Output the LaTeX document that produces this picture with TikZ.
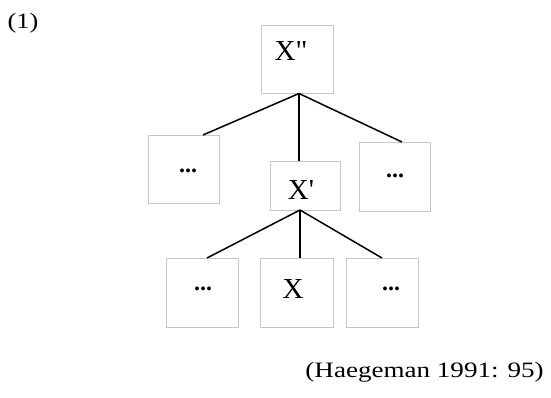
\documentclass[tikz,border=0pt]{standalone}
\usepackage{fontspec}
\setmainfont{Liberation Serif}
\newfontfamily\rawserif{Liberation Serif}
\begin{document}
\begin{tikzpicture}[x=1pt,y=-1pt,
  box/.style={draw=black!22, line width=0.8pt, inner sep=0pt},
  lbl/.style={font=\rawserif\fontsize{29}{30}\selectfont},
  dots/.style={font=\fontsize{24}{26}\selectfont\bfseries},
  edge/.style={draw=black, line width=1.5pt}]
\useasboundingbox (0,0) rectangle (551,397);
\node[box, minimum width=72pt, minimum height=68pt] (xpp) at (297,59) {};
\node[lbl] (xpptxt) at (291,51) {X"};
\node[box, minimum width=71pt, minimum height=68pt] (lb) at (183.5,169) {};
\node[dots] (lbtxt) at (188,171) {...};
\node[box, minimum width=70pt, minimum height=49pt] (xp) at (305,185.5) {};
\node[lbl] (xptxt) at (301,190) {X'};
\node[box, minimum width=71pt, minimum height=69pt] (rb) at (394.5,176.5) {};
\node[dots] (rbtxt) at (395,176) {...};
\node[box, minimum width=72pt, minimum height=69pt] (bl) at (202,292.5) {};
\node[dots] (bltxt) at (203,289) {...};
\node[box, minimum width=73pt, minimum height=69pt] (bm) at (296.5,292.5) {};
\node[lbl] (bmtxt) at (293,289) {X};
\node[box, minimum width=72pt, minimum height=69pt] (br) at (382,292.5) {};
\node[dots] (brtxt) at (391,289) {...};
\coordinate (top) at (299,93.5);
\coordinate (lbend) at (203,135);
\coordinate (rbend) at (402,142);
\coordinate (xptop) at (299,161);
\coordinate (mid) at (300,210);
\coordinate (blend) at (207,258);
\coordinate (bmend) at (300,258);
\coordinate (brend) at (382,258);
\draw[edge] (top) -- (lbend);
\draw[edge] (top) -- (rbend);
\draw[edge] (top) -- (xptop);
\draw[edge] (mid) -- (blend);
\draw[edge] (mid) -- (bmend);
\draw[edge] (mid) -- (brend);
\node[font=\fontsize{22}{24}\selectfont, xscale=1.2] (num) at (23,23) {(1)};
\node[font=\fontsize{22}{24}\selectfont, xscale=1.23, anchor=east] (cite) at (548,372) {(Haegeman 1991: 95)};
\end{tikzpicture}
\end{document}
